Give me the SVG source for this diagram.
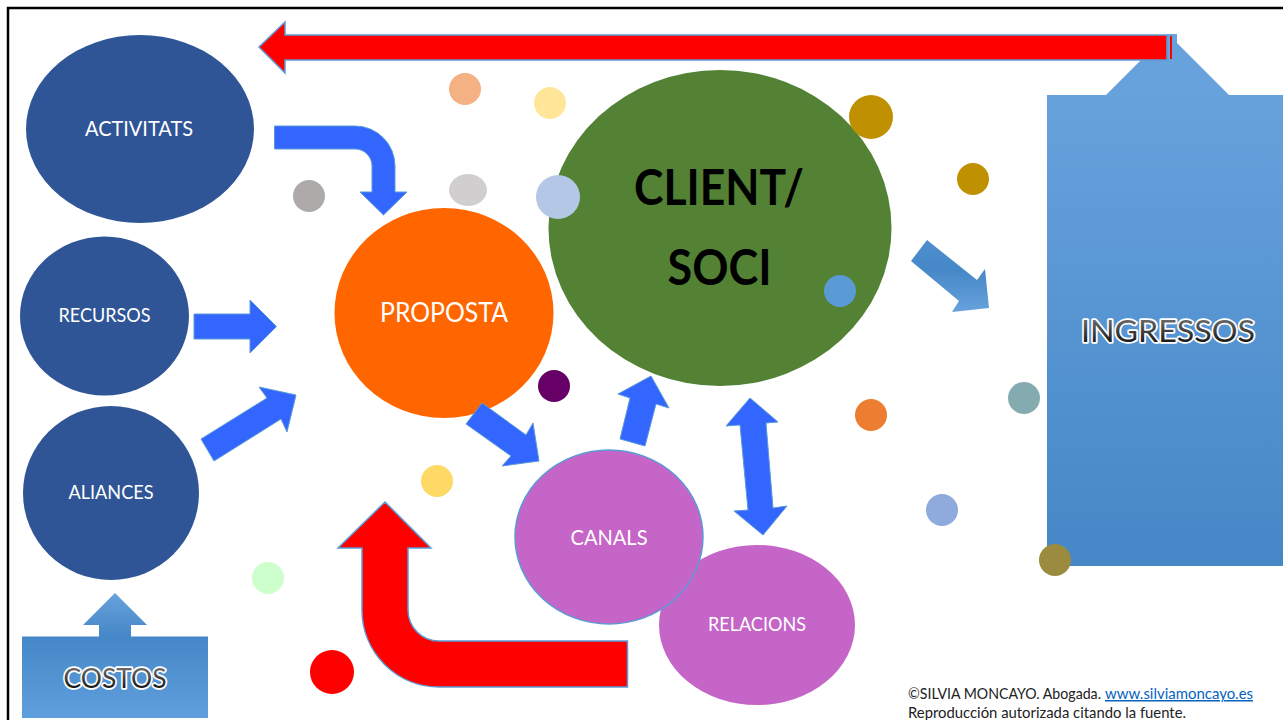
<svg xmlns="http://www.w3.org/2000/svg" width="1283" height="720" viewBox="0 0 1283 720">
<style>
text{font-family:"Lato","Liberation Sans",sans-serif}
.l{fill:#fff;text-anchor:middle;font-size:21px}
.o{fill:url(#tg);stroke:#fff;stroke-width:3.500px;paint-order:stroke;text-anchor:middle;font-size:29px;stroke-linejoin:round}
.d{fill:#2f5597}.m{fill:#c565c8}
.b{fill:#3366ff;stroke:#5b9bd5;stroke-width:1}
.r{fill:#ff0000;stroke:#5b9bd5;stroke-width:1.5}
.f{font-size:15px;fill:#222}
</style>
<defs>
<linearGradient id="tg" x1="0" y1="0" x2="0" y2="1"><stop offset="0" stop-color="#888"/><stop offset="0.5" stop-color="#444"/><stop offset="1" stop-color="#000"/></linearGradient>
<linearGradient id="down" x1="0" y1="0" x2="0" y2="1"><stop offset="0" stop-color="#67a2dc"/><stop offset="1" stop-color="#4587c7"/></linearGradient>
<linearGradient id="up" x1="0" y1="0" x2="0" y2="1"><stop offset="0" stop-color="#4587c7"/><stop offset="1" stop-color="#609fdd"/></linearGradient>
<linearGradient id="diag" x1="0" y1="0" x2="0" y2="1"><stop offset="0" stop-color="#4e90cf"/><stop offset="0.4" stop-color="#4587c7"/><stop offset="1" stop-color="#67a2dc"/></linearGradient>
</defs>
<rect width="1283" height="720" fill="#fff"/>
<path d="M8 720V8H1283" fill="none" stroke="#000" stroke-width="2.5"/>

<g id="ingressos">
<path d="M1106 95L1141 60H1167V34H1177V43L1229 95Z" fill="#67a2dc"/>
<rect x="1047" y="95" width="237" height="471" fill="url(#down)"/>
<text class="o" x="1168" y="342" textLength="174" lengthAdjust="spacingAndGlyphs" style="font-size:31px">INGRESSOS</text>
</g>
<g id="costos">
<path d="M115 593L147 625H131V637H99V625H83Z" fill="url(#down)"/>
<rect x="22" y="636.500" width="186" height="81.500" fill="url(#up)"/>
<text class="o" x="115" y="688" textLength="103" lengthAdjust="spacingAndGlyphs" style="font-size:27px">COSTOS</text>
</g>
<g id="proposta">
<ellipse cx="444" cy="313" rx="109.500" ry="105" fill="#ff6600"/>
<text class="l" x="444" y="322" textLength="128" lengthAdjust="spacingAndGlyphs" style="font-size:26px">PROPOSTA</text>
</g>

<g id="connectors">
<path class="r" d="M259 47L285 22V35H1167V60H285V73Z"/>
<rect x="1170" y="36" width="2" height="23" fill="#ff0000"/>
<path class="b" d="M274.500 126H355A40 40 0 0 1 395 166V192H407L383.500 215L360 192H372V166A17 17 0 0 0 355 149H274.500Z"/>
<path class="b" d="M194 314H250V300L276.500 326.500L250 353V339H194Z"/>
<path class="b" d="M201 439L267 398L259 387L296 395L287 432L281 419L214 461Z"/>
<path class="b" d="M482 403L526 435L533 423L539 461L502 466L511 456L466 424Z"/>
<path class="b" d="M620 439L630 398L618 394L651 376L669 408L656 404L645 446Z"/>
<path class="b" d="M750 398L778 422L766 423L773 508L787 506L763 535L734 511L748 510L740 425L726 426Z"/>
<path d="M927 240L977 280L985 269L989 308L952 312L959 301L911 261Z" fill="url(#diag)"/>
<path class="r" d="M385 502L431 548H408V610A31 31 0 0 0 439 641H627.500V687H439A77 77 0 0 1 362 610V548H338Z"/>
</g>

<g id="relacions">
<ellipse class="m" cx="757" cy="625" rx="98" ry="80"/>
<text class="l" x="757" y="631" textLength="98" lengthAdjust="spacingAndGlyphs" style="font-size:19px">RELACIONS</text>
</g>
<g id="canals">
<ellipse class="m" cx="609" cy="537" rx="94" ry="87" stroke="#5b9bd5" stroke-width="1.500"/>
<text class="l" x="609" y="545" textLength="77" lengthAdjust="spacingAndGlyphs">CANALS</text>
</g>
<g id="activitats">
<ellipse class="d" cx="140" cy="129" rx="114" ry="94"/>
<text class="l" x="139" y="136" textLength="108" lengthAdjust="spacingAndGlyphs">ACTIVITATS</text>
</g>
<g id="recursos">
<ellipse class="d" cx="104.500" cy="316" rx="84.500" ry="79.500"/>
<text class="l" x="104.500" y="322" textLength="92" lengthAdjust="spacingAndGlyphs" style="font-size:19px">RECURSOS</text>
</g>
<g id="aliances">
<ellipse class="d" cx="111" cy="493" rx="88" ry="87"/>
<text class="l" x="111" y="499" textLength="85" lengthAdjust="spacingAndGlyphs" style="font-size:19px">ALIANCES</text>
</g>
<g id="client">
<ellipse cx="720" cy="228" rx="171.500" ry="158" fill="#548235"/>
<text x="719" y="205" text-anchor="middle" font-weight="700" font-size="50" textLength="170" lengthAdjust="spacingAndGlyphs" fill="#000">CLIENT/</text>
<text x="719.500" y="285" text-anchor="middle" font-weight="700" font-size="50" textLength="104" lengthAdjust="spacingAndGlyphs" fill="#000">SOCI</text>
</g>

<g id="dots">
<circle cx="465" cy="89" r="16" fill="#f4b183"/>
<circle cx="550" cy="103" r="16" fill="#ffe699"/>
<ellipse cx="468" cy="190" rx="19" ry="16" fill="#d0cece"/>
<circle cx="309" cy="196" r="16" fill="#aeaaaa"/>
<circle cx="558" cy="197" r="22" fill="#b4c7e7"/>
<circle cx="871" cy="117" r="22" fill="#bf9000"/>
<circle cx="973" cy="179" r="16" fill="#bf9000"/>
<circle cx="840" cy="291" r="16" fill="#5b9bd5"/>
<circle cx="554" cy="386" r="16" fill="#660066"/>
<circle cx="871" cy="415" r="16" fill="#ed7d31"/>
<circle cx="1024" cy="398" r="16" fill="#84acb0"/>
<circle cx="942" cy="510" r="16" fill="#8faadc"/>
<circle cx="1055" cy="560" r="16" fill="#9a8b3e"/>
<circle cx="437" cy="481" r="16" fill="#ffd966"/>
<circle cx="268" cy="578" r="16" fill="#ccffcc"/>
<circle cx="332" cy="672" r="22" fill="#ff0000"/>
</g>

<g id="credit">
<text class="f" x="908" y="699" textLength="193" lengthAdjust="spacingAndGlyphs">©SILVIA MONCAYO. Abogada.</text>
<text class="f" x="1105" y="699" textLength="148" lengthAdjust="spacingAndGlyphs" style="fill:#0563c1;text-decoration:underline">www.silviamoncayo.es</text>
<text class="f" x="908" y="718" textLength="278" lengthAdjust="spacingAndGlyphs">Reproducción autorizada citando la fuente.</text>
</g>
</svg>
